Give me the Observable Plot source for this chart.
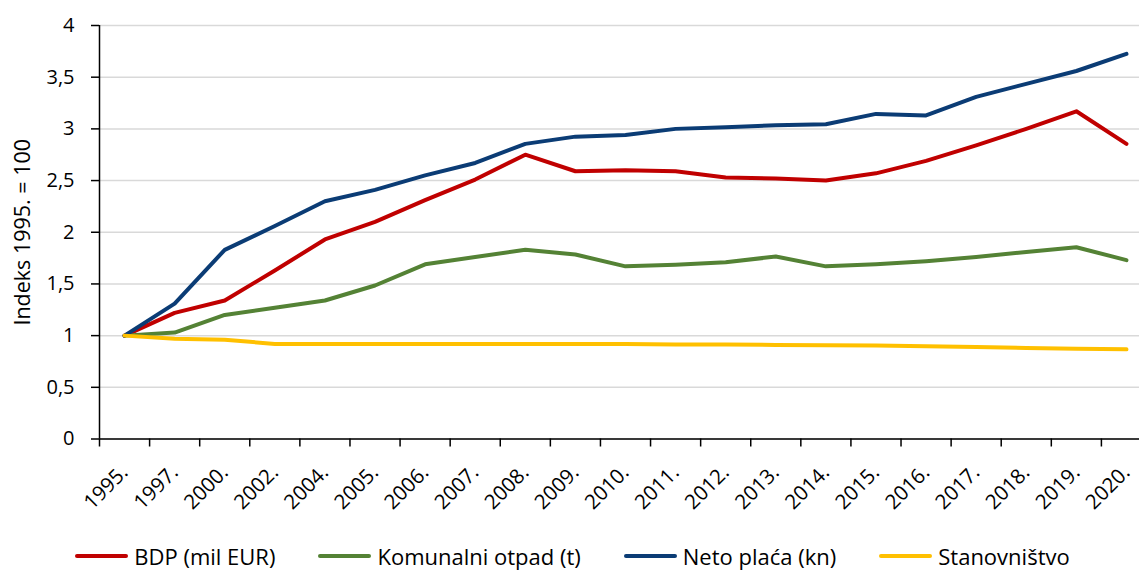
<!DOCTYPE html>
<html>
<head>
<meta charset="utf-8">
<script src="https://cdn.jsdelivr.net/npm/d3@7"></script>
<script src="https://cdn.jsdelivr.net/npm/@observablehq/plot@0.6"></script>
<style>
  html, body { margin: 0; padding: 0; background: #fff; overflow: hidden; }
  body { width: 1139px; height: 572px; font-family: "Open Sans", "Noto Sans", sans-serif; }
  #legend { display: flex; justify-content: center; align-items: center; height: 32px; gap: 43px; font-size: 22px; line-height: 30px; color: #000; padding-left: 6px; }
  .item { display: flex; align-items: center; }
  .sw { width: 53px; height: 4px; border-radius: 2px; margin-right: 6px; }
</style>
</head>
<body>
<div id="chart"></div>
<div id="legend"></div>
<script>
const years = ["1995.", "1997.", "2000.", "2002.", "2004.", "2005.", "2006.", "2007.", "2008.", "2009.", "2010.",
  "2011.", "2012.", "2013.", "2014.", "2015.", "2016.", "2017.", "2018.", "2019.", "2020."];
const seriesNames = ["BDP (mil EUR)", "Komunalni otpad (t)", "Neto plaća (kn)", "Stanovništvo"];
const seriesColors = ["#C00000", "#548235", "#0B3C75", "#FFC000"];
const bdp = [1.00, 1.22, 1.34, 1.63, 1.93, 2.10, 2.31, 2.51, 2.75, 2.59, 2.60, 2.59, 2.53, 2.52, 2.50, 2.57, 2.69, 2.84, 3.00, 3.17, 2.855];
const otpad = [1.00, 1.03, 1.20, 1.27, 1.34, 1.485, 1.69, 1.76, 1.83, 1.785, 1.67, 1.685, 1.71, 1.765, 1.67, 1.69, 1.72, 1.76, 1.81, 1.855, 1.73];
const placa = [1.00, 1.31, 1.83, 2.06, 2.30, 2.41, 2.55, 2.67, 2.855, 2.925, 2.94, 3.00, 3.015, 3.035, 3.045, 3.145, 3.13, 3.31, 3.435, 3.56, 3.725];
const stan = [1.00, 0.97, 0.96, 0.92, 0.92, 0.92, 0.92, 0.92, 0.92, 0.92, 0.918, 0.915, 0.913, 0.91, 0.908, 0.904, 0.897, 0.89, 0.88, 0.872, 0.867];
const yTicks = [0, 0.5, 1, 1.5, 2, 2.5, 3, 3.5, 4];
const yTitle = "Indeks 1995. = 100";

const seriesValues = [bdp, otpad, placa, stan];
const rows = seriesValues.flatMap((vals, k) => vals.map((v, i) => ({i, v, s: seriesNames[k]})));
const idx = years.map((_, i) => i);
const bounds = [...idx.map(i => i - 0.5), years.length - 0.5];

const chart = Plot.plot({
  width: 1139,
  height: 540,
  marginLeft: 99,
  marginRight: -12,
  marginTop: 25,
  marginBottom: 101.5,
  style: {fontFamily: "'Open Sans', 'Noto Sans', sans-serif", color: "#000", background: "#fff", overflow: "visible"},
  x: {type: "linear", domain: [-0.5, years.length - 0.5]},
  y: {domain: [0, 4]},
  color: {domain: seriesNames, range: seriesColors},
  marks: [
    Plot.gridY(yTicks, {stroke: "#d9d9d9", strokeOpacity: 1, strokeWidth: 1.5}),
    Plot.axisY(yTicks, {tickSize: 8, tickPadding: 17, fontSize: 20, tickFormat: d => String(d).replace(".", ","), label: null, stroke: "#000", strokeWidth: 1.5}),
    Plot.axisX(bounds, {tickSize: 8, tickFormat: () => "", label: null, stroke: "#000", strokeWidth: 1.5}),
    Plot.axisX(idx, {tickSize: 0, tickPadding: 30, tickRotate: -45, fontSize: 20.5, tickFormat: i => years[i], label: null}),
    Plot.ruleX([-0.5], {stroke: "#000", strokeWidth: 1.5}),
    Plot.ruleY([0], {stroke: "#000", strokeWidth: 1.5}),
    Plot.line(rows, {x: "i", y: "v", z: "s", stroke: "s", strokeWidth: 4, strokeLinejoin: "round", strokeLinecap: "round"}),
    Plot.text([yTitle], {frameAnchor: "left", dx: -76, rotate: -90, textAnchor: "middle", fontSize: 21.5, fill: "#000"})
  ]
});
document.getElementById("chart").appendChild(chart);

const legend = document.getElementById("legend");
seriesNames.forEach((n, k) => {
  const it = document.createElement("div");
  it.className = "item";
  const sw = document.createElement("div");
  sw.className = "sw";
  sw.style.background = seriesColors[k];
  const t = document.createElement("span");
  t.textContent = n;
  it.appendChild(sw);
  it.appendChild(t);
  legend.appendChild(it);
});
</script>
</body>
</html>
